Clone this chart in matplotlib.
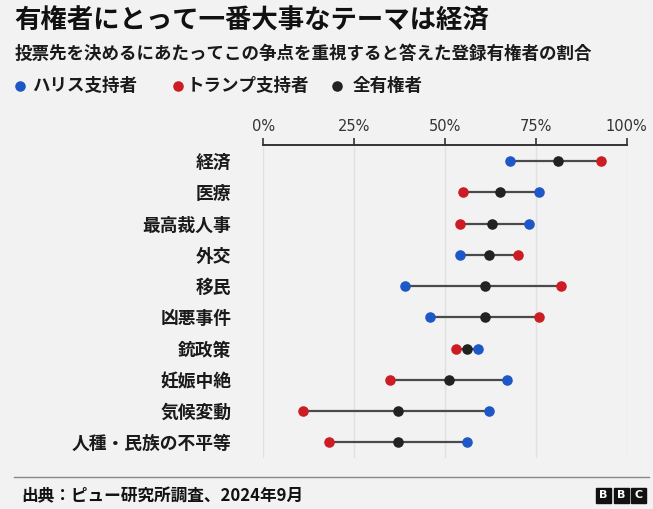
import matplotlib
matplotlib.use("Agg")
import matplotlib.pyplot as plt
from matplotlib.lines import Line2D
from matplotlib.patches import Rectangle

# ---- data ----
categories = ["経済", "医療", "最高裁人事", "外交", "移民", "凶悪事件",
              "銃政策", "妊娠中絶", "気候変動", "人種・民族の不平等"]
harris = [68, 76, 73, 54, 39, 46, 59, 67, 62, 56]
trump = [93, 55, 54, 70, 82, 76, 53, 35, 11, 18]
all_voters = [81, 65, 63, 62, 61, 61, 56, 51, 37, 37]
xticks = [0, 25, 50, 75, 100]
xticklabels = ["0%", "25%", "50%", "75%", "100%"]

title = "有権者にとって一番大事なテーマは経済"
subtitle = "投票先を決めるにあたってこの争点を重視すると答えた登録有権者の割合"
legend_labels = ["ハリス支持者", "トランプ支持者", "全有権者"]
source = "出典：ピュー研究所調査、2024年9月"

BLUE = "#1d58c6"
RED = "#cc1d24"
BLACK = "#222222"
BG = "#f2f2f2"
JP = ["Noto Sans CJK JP", "DejaVu Sans"]

W, H = 653, 509
fig = plt.figure(figsize=(W / 100, H / 100), dpi=100, facecolor=BG)

def fx(px):
    return px / W

def fy(py):
    return 1 - py / H

# axes placement
x0, x1 = 263.3, 626.7
ytop, ybot = 145, 458
ax = fig.add_axes([fx(x0), fy(ybot), fx(x1) - fx(x0), (ybot - ytop) / H])
ax.set_facecolor(BG)

row0, step = 161, 31.26
ax.set_xlim(0, 100)
ax.set_ylim((ybot - row0) / step, -(row0 - ytop) / step)

ypos = list(range(len(categories)))

# grid
for t in xticks:
    ax.axvline(t, color="#e1e1e1", lw=1.0, zorder=0)

# connecting lines
for i in ypos:
    vals = [harris[i], trump[i], all_voters[i]]
    ax.plot([min(vals), max(vals)], [i, i], color="#4a4a4a", lw=1.6, zorder=1,
            solid_capstyle="butt")

ms = 7.6
ax.plot(harris, ypos, "o", color=BLUE, ms=ms, mew=0, zorder=3)
ax.plot(trump, ypos, "o", color=RED, ms=ms, mew=0, zorder=3)
ax.plot(all_voters, ypos, "o", color=BLACK, ms=ms, mew=0, zorder=4)

# spines / ticks
for s in ["left", "right", "bottom"]:
    ax.spines[s].set_visible(False)
ax.spines["top"].set_color("#333333")
ax.spines["top"].set_linewidth(1.4)
ax.xaxis.set_ticks_position("top")
ax.set_xticks(xticks)
ax.set_xticklabels(xticklabels, fontsize=10.5, color="#333333", family="DejaVu Sans")
ax.tick_params(axis="x", direction="out", length=4.8, width=1.2, color="#333333", pad=3)
ax.set_yticks(ypos)
ax.set_yticklabels(categories, fontsize=12.8, fontweight="bold", color="#1a1a1a", family=JP)
ax.tick_params(axis="y", left=False, pad=19.5)

# titles
fig.text(fx(14), fy(21), title, fontsize=19, fontweight="bold", color="#111111",
         family=JP, va="center", ha="left")
fig.text(fx(15), fy(54), subtitle, fontsize=12.6, fontweight="bold", color="#1a1a1a",
         family=JP, va="center", ha="left")

# legend
leg_items = [(20, 32, BLUE), (178, 187, RED), (337, 353, BLACK)]
for (mx, tx, c), lab in zip(leg_items, legend_labels):
    fig.add_artist(Line2D([fx(mx)], [fy(86)], marker="o", color=c, ms=7.6, mew=0,
                          transform=fig.transFigure, linestyle="none"))
    fig.text(fx(tx), fy(86), lab, fontsize=12.6, fontweight="bold", color="#1a1a1a",
             family=JP, va="center", ha="left")

# footer
fig.add_artist(Line2D([fx(14), fx(649)], [fy(476.7), fy(476.7)], color="#888888",
                      lw=1.0, transform=fig.transFigure))
fig.text(fx(21), fy(496), source, fontsize=12, fontweight="bold", color="#111111",
         family=JP, va="center", ha="left")

# BBC blocks
for k, letter in enumerate("BBC"):
    bx = 596 + k * 17.5
    fig.add_artist(Rectangle((fx(bx), fy(503)), 15 / W, 15 / H, color="#111111",
                             transform=fig.transFigure))
    fig.text(fx(bx + 7.5), fy(495.5), letter, fontsize=8, fontweight="bold",
             color="white", ha="center", va="center", family="DejaVu Sans")

fig.savefig("out.png", dpi=100, facecolor=BG)
